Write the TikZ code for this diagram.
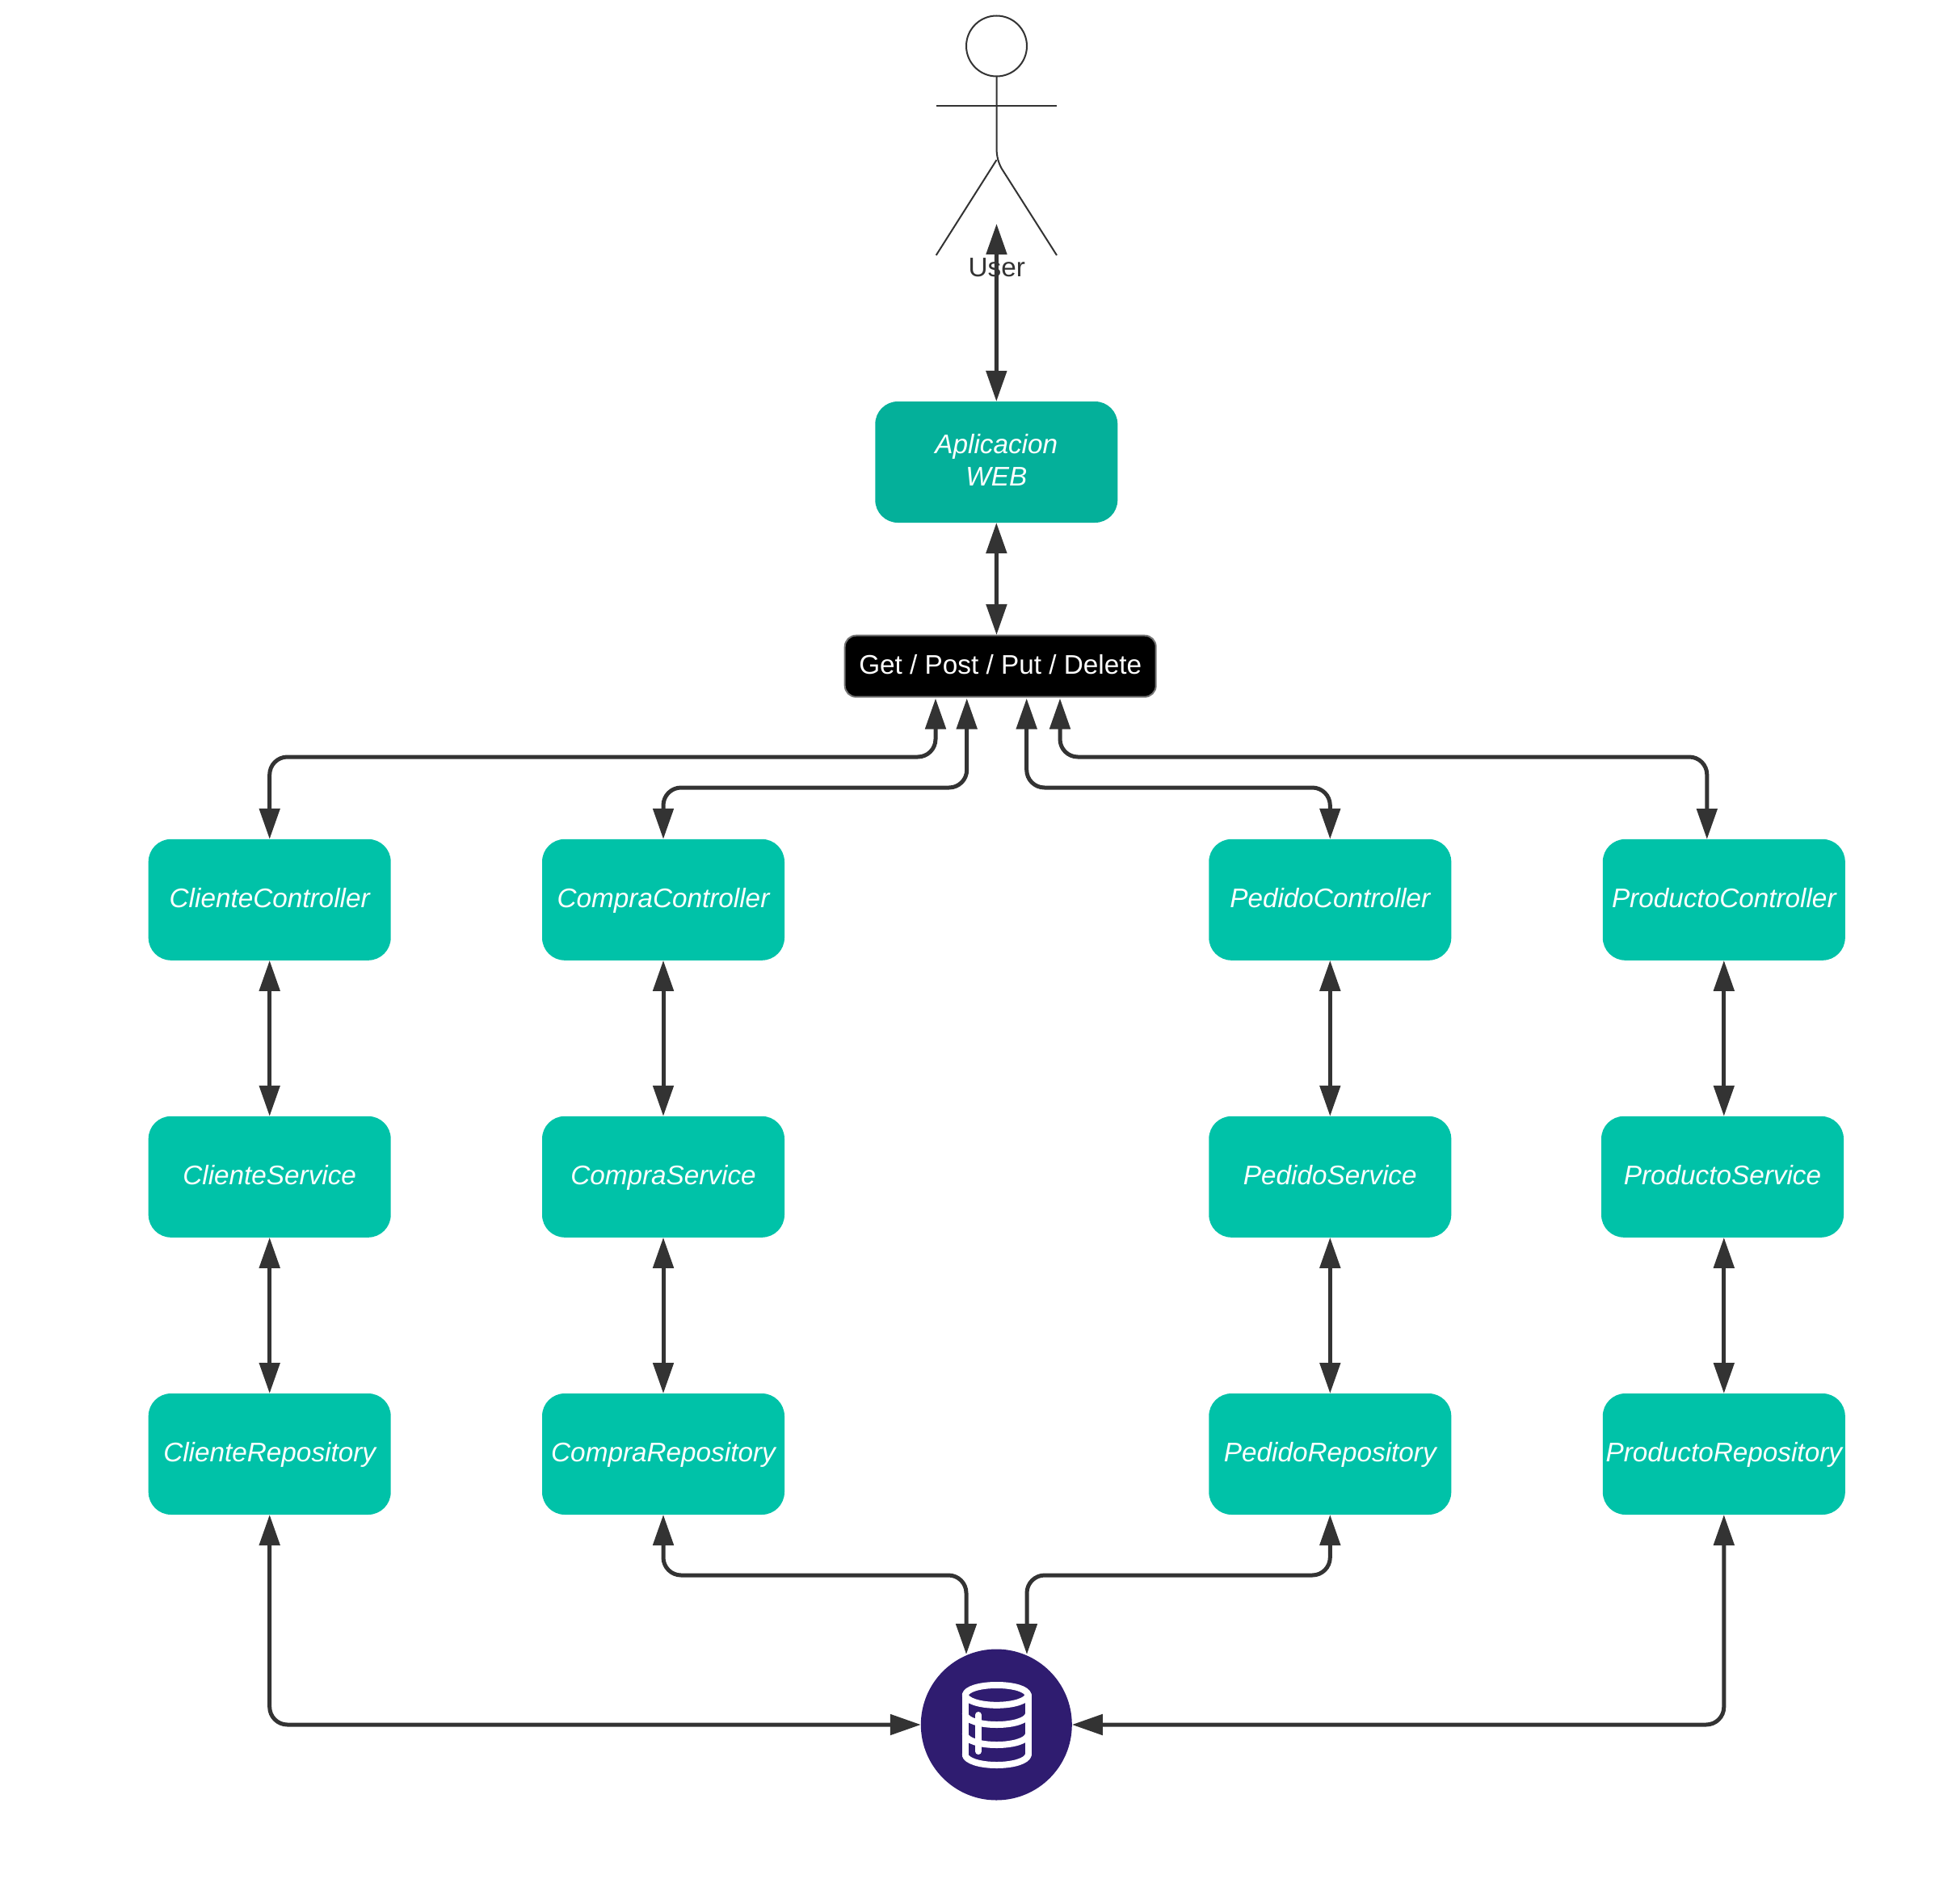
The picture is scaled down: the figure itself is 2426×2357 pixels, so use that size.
\documentclass[tikz,border=0pt]{standalone}
\usepackage{fontspec}
\setmainfont{Liberation Sans}
\usetikzlibrary{arrows.meta}
\definecolor{tealbox}{HTML}{00C2A8}
\definecolor{tealapp}{HTML}{04B09A}
\definecolor{ink}{HTML}{333333}
\definecolor{dbblue}{HTML}{2F1C70}
\tikzset{
  x=1pt,y=-1pt,
  labelfont/.style={font=\fontsize{33.3}{40}\selectfont},
  svcbox/.style={shape=rectangle,fill=tealbox,text=white,minimum width=300pt,minimum height=150pt,
    rounded corners=28pt,inner sep=0pt,outer sep=0pt,text height=25pt,text depth=6pt,
    font=\fontsize{33.3}{40}\selectfont\itshape},
  appbox/.style={svcbox,fill=tealapp,text height=,text depth=,align=center},
  methodbox/.style={shape=rectangle,fill=black,draw=black!55,line width=2pt,text=white,minimum width=385pt,
    minimum height=76pt,rounded corners=14pt,inner sep=0pt,outer sep=0pt,text height=25pt,text depth=6pt,labelfont},
  conn/.style={draw=ink,line width=5pt,rounded corners=22pt,
    {Triangle[length=38pt,width=25pt,fill=ink]}-{Triangle[length=38pt,width=25pt,fill=ink]}},
  stick/.style={draw=ink,line width=2pt},
  iconline/.style={draw=white,line width=8pt,line cap=round,line join=round},
}
\begin{document}
\begin{tikzpicture}
\path[fill=white,use as bounding box] (0,0) rectangle (2426,2357);

% actor
\node[circle,draw=ink,line width=2pt,minimum size=75pt,inner sep=0pt,outer sep=0pt] (head) at (1233.5,57) {};
\coordinate (armL) at (1158.7,131);
\coordinate (armR) at (1308,131);
\coordinate (hip) at (1233.5,198);
\draw[stick] (head.south) -- (1233.5,183) .. controls (1233.5,194) and (1236,202) .. (1240,209) -- (1308,316);
\draw[stick] (armL) -- (armR);
\draw[stick] (hip) -- (1158.7,316);
\node[text=ink,labelfont,inner sep=0pt,anchor=base] (user) at (1233.8,343) {User};

% boxes
\node[appbox] (app) at (1233.3,572) {Aplicacion\\WEB\rule[-4.6pt]{0pt}{0pt}};
\node[methodbox] (verbs) at (1238.2,824.7) {Get / Post / Put / Delete};

\node[svcbox] (cc) at (333.7,1113.8) {ClienteController};
\node[svcbox] (cs) at (333.7,1456.8) {ClienteService};
\node[svcbox] (cr) at (333.7,1800) {ClienteRepository};
\node[svcbox] (mc) at (821,1113.8) {CompraController};
\node[svcbox] (ms) at (821,1456.8) {CompraService};
\node[svcbox] (mr) at (821,1800) {CompraRepository};
\node[svcbox] (pc) at (1646.3,1113.8) {PedidoController};
\node[svcbox] (ps) at (1646.3,1456.8) {PedidoService};
\node[svcbox] (pr) at (1646.3,1800) {PedidoRepository};
\node[svcbox] (dc) at (2133.8,1113.8) {ProductoController};
\node[svcbox] (ds) at (2132,1456.8) {ProductoService};
\node[svcbox] (dr) at (2133.8,1800) {ProductoRepository};

% database
\node[circle,fill=dbblue,minimum size=187pt,inner sep=0pt,outer sep=0pt] (db) at (1233.3,2135) {};
\foreach \yy in {2098.3,2122.5,2147.5,2172.5}{
  \draw[iconline] (1194.7,\yy) .. controls (1196,\yy+7) and (1212,\yy+12.5) .. (1233.7,\yy+12.5)
     .. controls (1255,\yy+12.5) and (1271.5,\yy+7) .. (1272.7,\yy);
}
\draw[iconline] (1194.7,2098.3) .. controls (1196,2091) and (1212,2086) .. (1233.7,2086)
     .. controls (1255,2086) and (1271.5,2091) .. (1272.7,2098.3);
\draw[iconline] (1194.7,2098.3) -- (1194.7,2172.5);
\draw[iconline] (1272.7,2098.3) -- (1272.7,2172.5);
\draw[iconline] (1211,2123) -- (1211,2168);

% connector coordinates
\coordinate (userEnd) at (1233.5,277);
\coordinate (vTop) at (1233.5,786);
\coordinate (g1) at (1158,864.5);
\coordinate (g2) at (1196.7,864.5);
\coordinate (g3) at (1270.7,864.5);
\coordinate (g4) at (1312,864.5);
\coordinate (b1) at (1158,937);
\coordinate (b2) at (1196.7,975);
\coordinate (b3) at (1270.7,975);
\coordinate (b4) at (1312,937);
\coordinate (dcTop) at (2112.8,1039);
\coordinate (dA) at (1196,2048);
\coordinate (dB) at (1271,2048);
\coordinate (bA) at (1196,1950);
\coordinate (bB) at (1271,1950);

% connectors
\draw[conn] (userEnd) -- (app.north);
\draw[conn] (app.south) -- (vTop);
\draw[conn] (cc.north) |- (b1) -- (g1);
\draw[conn] (mc.north) |- (b2) -- (g2);
\draw[conn] (pc.north) |- (b3) -- (g3);
\draw[conn] (dcTop) |- (b4) -- (g4);

\draw[conn] (cc.south) -- (cs.north);
\draw[conn] (cs.south) -- (cr.north);
\draw[conn] (mc.south) -- (ms.north);
\draw[conn] (ms.south) -- (mr.north);
\draw[conn] (pc.south) -- (ps.north);
\draw[conn] (ps.south) -- (pr.north);
\draw[conn] (dc.south) -- (dc.south |- ds.north);
\draw[conn] (dc.south |- ds.south) -- (dr.north);

\draw[conn] (cr.south) |- (db.west);
\draw[conn] (dr.south) |- (db.east);
\draw[conn] (mr.south) |- (bA) -- (dA);
\draw[conn] (pr.south) |- (bB) -- (dB);
\end{tikzpicture}
\end{document}
